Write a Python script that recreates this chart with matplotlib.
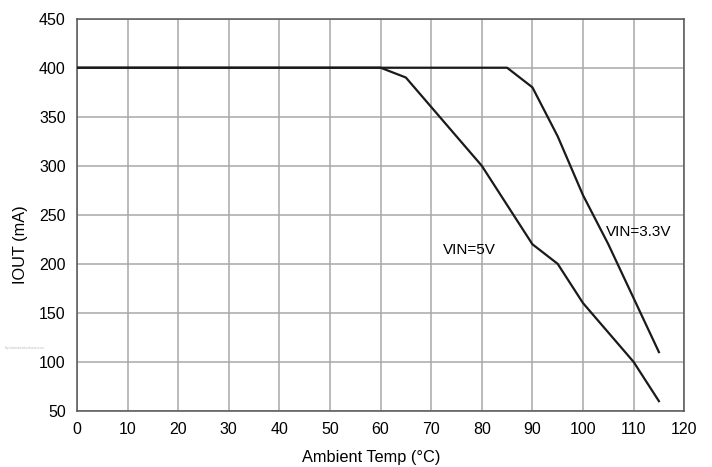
import matplotlib
matplotlib.use("Agg")
import matplotlib.pyplot as plt

plt.rcParams['font.family'] = ['Liberation Sans', 'DejaVu Sans']

# VIN = 5V derating curve
temp_5v = [0, 60, 65, 70, 80, 90, 95, 100, 110, 115]
iout_5v = [400, 400, 390, 360, 300, 220, 200, 160, 100, 60]

# VIN = 3.3V derating curve
temp_33v = [0, 85, 90, 95, 100, 105, 110, 115]
iout_33v = [400, 400, 380, 330, 270, 220, 165, 110]

xticks = list(range(0, 121, 10))
yticks = list(range(50, 451, 50))

fig = plt.figure(figsize=(7.12, 4.67), dpi=100)
ax = fig.add_axes([0.108, 0.12, 0.853, 0.84])

ax.plot(temp_5v, iout_5v, color='#1a1a1a', lw=1.6, zorder=3)
ax.plot(temp_33v, iout_33v, color='#1a1a1a', lw=1.6, zorder=3)

ax.text(77.5, 214, 'VIN=5V', fontsize=11, ha='center', va='center')
ax.text(111, 232, 'VIN=3.3V', fontsize=11, ha='center', va='center')

ax.set_xlim(0, 120)
ax.set_ylim(50, 450)
ax.set_xticks(xticks)
ax.set_yticks(yticks)
ax.grid(True, color='#a8a8a8', lw=1.1)
ax.tick_params(length=0, labelsize=11.5, pad=8)
for s in ax.spines.values():
    s.set_color('#555555')
    s.set_linewidth(1.1)

ax.set_xlabel('Ambient Temp (°C)', fontsize=11.8)
ax.set_ylabel('IOUT (mA)', fontsize=11.8)
ax.xaxis.set_label_coords(0.484, -0.099)
ax.yaxis.set_label_coords(-0.081, 0.425)

fig.text(0.035, 0.255, 'http://www.datasheetlocation.net', fontsize=2, color='#bbbbbb',
         ha='center', va='center')

fig.savefig('out.png', dpi=100, facecolor='white')
